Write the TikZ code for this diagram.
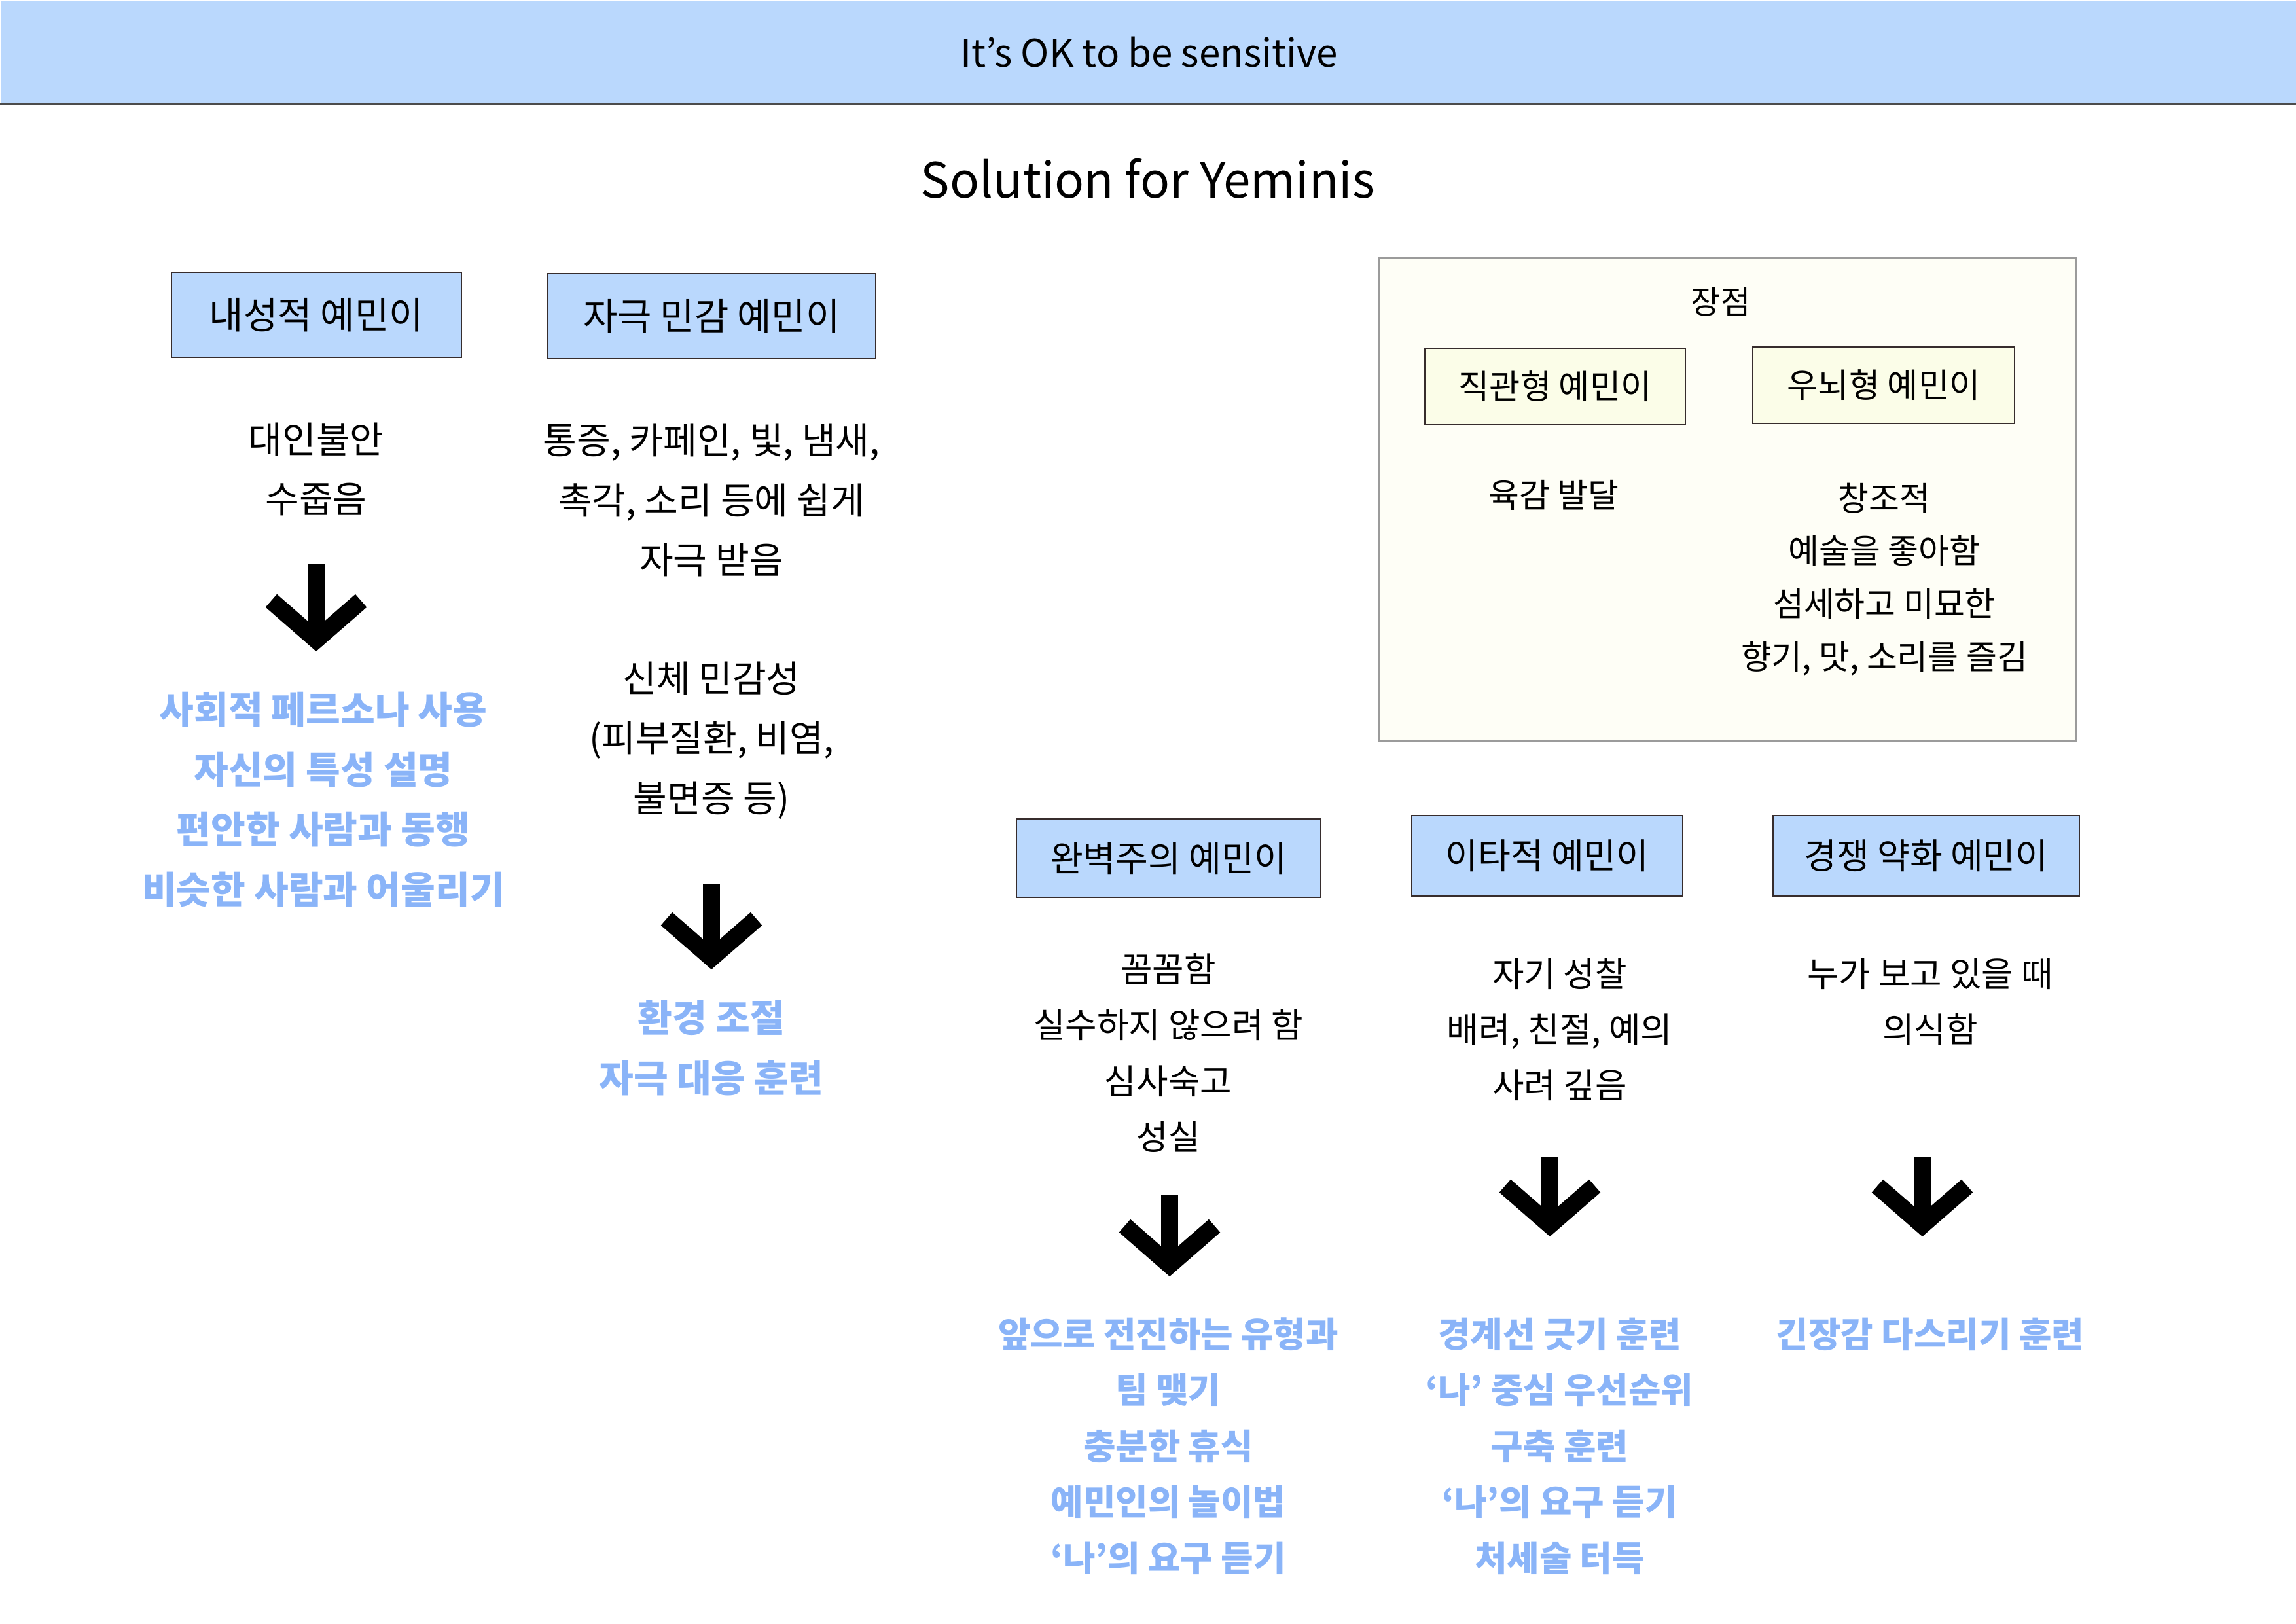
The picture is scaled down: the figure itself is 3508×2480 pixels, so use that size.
\documentclass[tikz,border=0pt]{standalone}
\usepackage{fontspec}
\setmainfont{Noto Sans CJK KR}
\usepackage{xcolor}
\usetikzlibrary{arrows.meta}

\definecolor{headblue}{RGB}{186,216,253}
\definecolor{remedyblue}{RGB}{138,180,248}
\definecolor{creamfill}{RGB}{254,254,246}
\definecolor{paleyellow}{RGB}{251,253,232}
\definecolor{paneledge}{RGB}{155,155,155}
\definecolor{boxedge}{RGB}{55,45,45}

\begin{document}
\begin{tikzpicture}[x=0.01cm, y=-0.01cm,
		typebox/.style={draw=boxedge, line width=0.6pt, fill=headblue,
			minimum height=1.3cm, font=\fontsize{16.2pt}{18pt}\selectfont},
		strongbox/.style={draw=boxedge, line width=0.6pt, fill=paleyellow,
			minimum height=1.17cm, font=\fontsize{14.6pt}{16pt}\selectfont},
		trait/.style={align=center, font=\fontsize{16pt}{26pt}\selectfont},
		lowtrait/.style={align=center, font=\fontsize{15pt}{24.2pt}\selectfont},
		paneltrait/.style={align=center, font=\fontsize{14.5pt}{23pt}\selectfont},
		remedy/.style={align=center, text=remedyblue,
			font=\fontsize{16.3pt}{26pt}\selectfont\bfseries},
		lowremedy/.style={align=center, text=remedyblue,
			font=\fontsize{15.3pt}{24.3pt}\selectfont\bfseries},
		downarrow/.style={line width=7.5pt,
			-{Straight Barb[sharp, length=17pt, width=39pt]}}]
	\useasboundingbox (0,0) rectangle (3508,2480);

	% header and title
	\node[fill=headblue, minimum width=35.08cm, minimum height=1.57cm,
		anchor=north west, inner sep=0pt,
		font=\fontsize{16.6pt}{20pt}\selectfont] (header) at (0,0)
		{It's OK to be sensitive};
	\draw[line width=0.9pt, black!70] (header.south west) -- (header.south east);
	\node[font=\fontsize{21.2pt}{24pt}\selectfont] (title) at (1754,273)
		{Solution for Yeminis};

	% left two types
	\node[typebox, minimum width=4.43cm] (introvert) at (483.5,481) {내성적 예민이};
	\node[typebox, minimum width=5.01cm] (stimulus) at (1087.5,483) {자극 민감 예민이};

	\node[trait] (introvert-trait) at (483,717) {대인불안\\수줍음};
	\node[trait] (stimulus-trait) at (1087,764)
		{통증, 카페인, 빛, 냄새,\\촉각, 소리 등에 쉽게\\자극 받음};
	\node[trait] (body-trait) at (1087,1131)
		{신체 민감성\\(피부질환, 비염,\\불면증 등)};

	\coordinate (introvert-from) at (483,862);
	\coordinate (introvert-to) at (483,995);
	\coordinate (stimulus-from) at (1087,1350);
	\coordinate (stimulus-to) at (1087,1481);
	\draw[downarrow] (introvert-from) -- (introvert-to);
	\draw[downarrow] (stimulus-from) -- (stimulus-to);

	\node[remedy] (introvert-remedy) at (494,1221.5)
		{사회적 페르소나 사용\\자신의 특성 설명\\편안한 사람과 동행\\비슷한 사람과 어울리기};
	\node[remedy] (stimulus-remedy) at (1087,1601) {환경 조절\\자극 대응 훈련};

	% strengths panel
	\node[draw=paneledge, line width=0.8pt, fill=creamfill,
		minimum width=10.65cm, minimum height=7.38cm] (strengths) at (2639.5,763) {};
	\node[font=\fontsize{14pt}{16pt}\selectfont] (strengths-label) at (2629,461) {장점};
	\node[strongbox, minimum width=3.98cm] (intuitive) at (2376,590.5) {직관형 예민이};
	\node[strongbox, minimum width=4cm] (rightbrain) at (2878,588.5) {우뇌형 예민이};
	\node[paneltrait] (intuitive-trait) at (2374,756) {육감 발달};
	\node[paneltrait] (rightbrain-trait) at (2879,885)
		{창조적\\예술을 좋아함\\섬세하고 미묘한\\향기, 맛, 소리를 즐김};

	% lower three types
	\node[typebox, minimum width=4.65cm, minimum height=1.2cm,
		font=\fontsize{15.4pt}{16pt}\selectfont] (perfectionist) at (1785.5,1311) {완벽주의 예민이};
	\node[typebox, minimum width=4.14cm, minimum height=1.23cm,
		font=\fontsize{15.4pt}{16pt}\selectfont] (altruist) at (2364,1307.5) {이타적 예민이};
	\node[typebox, minimum width=4.68cm, minimum height=1.23cm,
		font=\fontsize{15.4pt}{16pt}\selectfont] (competitor) at (2943,1307.5) {경쟁 약화 예민이};

	\node[lowtrait] (perfectionist-trait) at (1785,1608.5)
		{꼼꼼함\\실수하지 않으려 함\\심사숙고\\성실};
	\node[lowtrait] (altruist-trait) at (2383,1573)
		{자기 성찰\\배려, 친절, 예의\\사려 깊음};
	\node[lowtrait] (competitor-trait) at (2949,1530.5)
		{누가 보고 있을 때\\의식함};

	\coordinate (perfectionist-from) at (1787,1825);
	\coordinate (perfectionist-to) at (1787,1950);
	\coordinate (altruist-from) at (2368,1767);
	\coordinate (altruist-to) at (2368,1889);
	\coordinate (competitor-from) at (2937,1767);
	\coordinate (competitor-to) at (2937,1889);
	\draw[downarrow] (perfectionist-from) -- (perfectionist-to);
	\draw[downarrow] (altruist-from) -- (altruist-to);
	\draw[downarrow] (competitor-from) -- (competitor-to);

	\node[lowremedy] (perfectionist-remedy) at (1785,2209)
		{앞으로 전진하는 유형과\\팀 맺기\\충분한 휴식\\예민인의 놀이법\\‘나’의 요구 듣기};
	\node[lowremedy] (altruist-remedy) at (2383,2209)
		{경계선 긋기 훈련\\‘나’ 중심 우선순위\\구축 훈련\\‘나’의 요구 듣기\\처세술 터득};
	\node[lowremedy] (competitor-remedy) at (2949,2038) {긴장감 다스리기 훈련};
\end{tikzpicture}
\end{document}
